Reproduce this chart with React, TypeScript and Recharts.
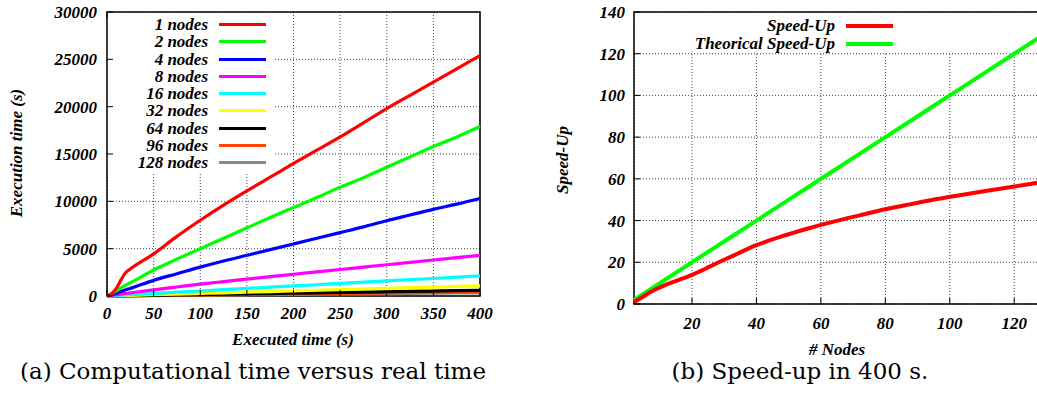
import React from 'react'
import {
  CartesianGrid,
  Legend,
  Line,
  LineChart,
  ReferenceArea,
  XAxis,
  YAxis,
} from 'recharts'

// (a) executed time vs. computational time, one series per node count
const executedTime = [0, 5, 10, 15, 20, 25, 50, 75, 100, 125, 150, 175, 200, 225, 250, 275, 300, 325, 350, 375, 400]
const nodes1 = [0, 250, 800, 1700, 2450, 2850, 4450, 6300, 8000, 9600, 11100, 12550, 14000, 15400, 16800, 18300, 19800, 21200, 22600, 24000, 25400]
const nodes2 = [0, 250, 550, 850, 1150, 1400, 2750, 3900, 5000, 6100, 7200, 8300, 9350, 10400, 11500, 12500, 13600, 14700, 15800, 16800, 17900]
const nodes4 = [0, 150, 300, 480, 650, 800, 1650, 2350, 3050, 3700, 4300, 4900, 5500, 6100, 6700, 7300, 7950, 8550, 9150, 9700, 10300]
const nodes8 = [0, 65, 130, 200, 265, 330, 650, 950, 1250, 1520, 1780, 2040, 2300, 2550, 2800, 3050, 3300, 3550, 3800, 4050, 4300]
const nodes16 = [0, 27, 53, 80, 106, 135, 270, 400, 530, 665, 800, 930, 1060, 1190, 1330, 1460, 1590, 1720, 1850, 1990, 2120]
const nodes32 = [0, 14, 27, 40, 54, 68, 135, 200, 270, 340, 405, 470, 540, 610, 675, 740, 810, 880, 945, 1010, 1080]
const nodes64 = [0, 8, 15, 22, 30, 38, 75, 110, 150, 190, 225, 260, 300, 340, 375, 410, 450, 490, 525, 560, 600]
const nodes96 = [0, 6, 11, 17, 22, 28, 55, 83, 110, 140, 165, 195, 220, 250, 275, 305, 330, 360, 385, 415, 440]
const nodes128 = [0, 4, 9, 13, 17, 21, 43, 64, 85, 106, 128, 150, 170, 190, 213, 234, 255, 276, 298, 320, 340]

const timeTicks = [0, 50, 100, 150, 200, 250, 300, 350, 400]
const execTicks = [0, 5000, 10000, 15000, 20000, 25000, 30000]

// (b) speed-up in 400 s
const nodeCounts = [2, 4, 8, 12, 16, 20, 24, 28, 32, 40, 48, 56, 64, 72, 80, 88, 96, 104, 112, 120, 128]
const speedUp = [1, 2.8, 6.5, 9.3, 11.6, 14, 16.8, 19.8, 22.6, 28.2, 32.5, 36.2, 39.5, 42.5, 45.4, 47.9, 50.3, 52.4, 54.4, 56.3, 58.3]
const theoricalSpeedUp = [2, 4, 8, 12, 16, 20, 24, 28, 32, 40, 48, 56, 64, 72, 80, 88, 96, 104, 112, 120, 128]

const nodeTicks = [20, 40, 60, 80, 100, 120]
const speedTicks = [0, 20, 40, 60, 80, 100, 120, 140]

const seriesA = [
  { key: 'n1', name: '1 nodes', values: nodes1, color: '#ff0000' },
  { key: 'n2', name: '2 nodes', values: nodes2, color: '#00ff00' },
  { key: 'n4', name: '4 nodes', values: nodes4, color: '#0000ff' },
  { key: 'n8', name: '8 nodes', values: nodes8, color: '#ff00ff' },
  { key: 'n16', name: '16 nodes', values: nodes16, color: '#00ffff' },
  { key: 'n32', name: '32 nodes', values: nodes32, color: '#ffff00' },
  { key: 'n64', name: '64 nodes', values: nodes64, color: '#000000' },
  { key: 'n96', name: '96 nodes', values: nodes96, color: '#ff4500' },
  { key: 'n128', name: '128 nodes', values: nodes128, color: '#888888' },
]

const dataA = executedTime.map((t, i) => {
  const row: Record<string, number> = { t }
  seriesA.forEach((s) => (row[s.key] = s.values[i]))
  return row
})

const dataB = nodeCounts.map((n, i) => ({ n, speed: speedUp[i], theory: theoricalSpeedUp[i] }))

const FONT = '"Liberation Serif", serif'
const labelStyle: React.CSSProperties = {
  fontFamily: FONT,
  fontStyle: 'italic',
  fontWeight: 'bold',
  fontSize: 17,
  color: '#000',
  whiteSpace: 'nowrap',
}

// tick helpers: tickSize/tickMargin are 0, so x/y sit right on the plot frame
const bottomTick = (dy: number) => (props: any) => {
  const { x, y, payload } = props
  return (
    <g>
      <line x1={x} x2={x} y1={y} y2={y - 6} stroke="#000" strokeWidth={1} />
      <text x={x} y={y + dy} textAnchor="middle" fontFamily={FONT} fontStyle="italic" fontWeight="bold" fontSize={17} fill="#000">
        {payload.value}
      </text>
    </g>
  )
}

const leftTick = (dx: number) => (props: any) => {
  const { x, y, payload } = props
  return (
    <g>
      <line x1={x} x2={x + 6} y1={y} y2={y} stroke="#000" strokeWidth={1} />
      <text x={x - dx} y={y + 6} textAnchor="end" fontFamily={FONT} fontStyle="italic" fontWeight="bold" fontSize={17} fill="#000">
        {payload.value}
      </text>
    </g>
  )
}

const topTick = (props: any) => {
  const { x, y } = props
  return <line x1={x} x2={x} y1={y} y2={y + 6} stroke="#000" strokeWidth={1} />
}

const rightTick = (props: any) => {
  const { x, y } = props
  return <line x1={x} x2={x - 6} y1={y} y2={y} stroke="#000" strokeWidth={1} />
}

function KeyBox({ items, labelWidth, rowHeight, lineWidth, thickness }: {
  items: Array<{ name: string; color: string }>
  labelWidth: number
  rowHeight: number
  lineWidth: number
  thickness: number
}) {
  return (
    <div>
      {items.map((item) => (
        <div key={item.name} style={{ display: 'flex', alignItems: 'center', height: rowHeight }}>
          <span style={{ ...labelStyle, width: labelWidth, textAlign: 'right', lineHeight: `${rowHeight}px` }}>{item.name}</span>
          <span style={{ display: 'inline-block', marginLeft: 11, width: lineWidth, height: thickness, background: item.color }} />
        </div>
      ))}
    </div>
  )
}

function ExecutionChart() {
  return (
    <LineChart width={520} height={398} data={dataA} margin={{ top: 11, right: 39, bottom: 72, left: 47 }}>
      <CartesianGrid stroke="#444" strokeDasharray="1 2" />
      <ReferenceArea x1={0} x2={180} y1={13100} y2={30000} fill="#fff" fillOpacity={1} stroke="none" />
      <XAxis dataKey="t" type="number" domain={[0, 400]} ticks={timeTicks} interval={0} height={30} tickSize={0} tickMargin={0} axisLine={false} tickLine={false} tick={bottomTick(23)} />
      <XAxis xAxisId="top" orientation="top" type="number" domain={[0, 400]} ticks={timeTicks} interval={0} height={1} tickSize={0} tickMargin={0} axisLine={false} tickLine={false} tick={topTick} />
      <YAxis type="number" domain={[0, 30000]} ticks={execTicks} interval={0} width={60} tickSize={0} tickMargin={0} axisLine={false} tickLine={false} tick={leftTick(10)} />
      <YAxis yAxisId="right" orientation="right" type="number" domain={[0, 30000]} ticks={execTicks} interval={0} width={1} tickSize={0} tickMargin={0} axisLine={false} tickLine={false} tick={rightTick} />
      {[...seriesA].reverse().map((s) => (
        <Line key={s.key} dataKey={s.key} name={s.name} stroke={s.color} strokeWidth={3.2} dot={false} type="monotone" isAnimationActive={false} />
      ))}
      <ReferenceArea x1={0} x2={400} y1={0} y2={30000} fill="none" stroke="#000" strokeWidth={1.5} />
      <Legend
        layout="horizontal"
        verticalAlign="middle"
        align="center"
        wrapperStyle={{ position: 'absolute', top: 16, left: 100, width: 170, bottom: 'auto' }}
        content={() => <KeyBox items={seriesA} labelWidth={108} rowHeight={17.25} lineWidth={47} thickness={3} />}
      />
    </LineChart>
  )
}

const seriesB = [
  { name: 'Speed-Up', color: '#ff0000' },
  { name: 'Theorical Speed-Up', color: '#00ff00' },
]

function SpeedUpChart() {
  return (
    <LineChart width={530} height={398} data={dataB} margin={{ top: 11, right: 9, bottom: 64, left: 54 }}>
      <CartesianGrid stroke="#444" strokeDasharray="1 2" />
      <ReferenceArea x1={2} x2={128} y1={121} y2={140} fill="#fff" fillOpacity={1} stroke="none" />
      <XAxis dataKey="n" type="number" domain={[2, 128]} ticks={nodeTicks} interval={0} height={30} tickSize={0} tickMargin={0} axisLine={false} tickLine={false} tick={bottomTick(25)} />
      <XAxis xAxisId="top" orientation="top" type="number" domain={[2, 128]} ticks={nodeTicks} interval={0} height={1} tickSize={0} tickMargin={0} axisLine={false} tickLine={false} tick={topTick} />
      <YAxis type="number" domain={[0, 140]} ticks={speedTicks} interval={0} width={60} tickSize={0} tickMargin={0} axisLine={false} tickLine={false} tick={leftTick(9)} />
      <YAxis yAxisId="right" orientation="right" type="number" domain={[0, 140]} ticks={speedTicks} interval={0} width={1} tickSize={0} tickMargin={0} axisLine={false} tickLine={false} tick={rightTick} />
      <Line dataKey="theory" name="Theorical Speed-Up" stroke="#00ff00" strokeWidth={4} dot={false} type="linear" isAnimationActive={false} />
      <Line dataKey="speed" name="Speed-Up" stroke="#ff0000" strokeWidth={4} dot={false} type="monotone" isAnimationActive={false} />
      <ReferenceArea x1={2} x2={128} y1={0} y2={140} fill="none" stroke="#000" strokeWidth={1.5} />
      <Legend
        layout="horizontal"
        verticalAlign="middle"
        align="center"
        wrapperStyle={{ position: 'absolute', top: 17, left: 150, width: 230, bottom: 'auto' }}
        content={() => <KeyBox items={seriesB} labelWidth={165} rowHeight={17.7} lineWidth={47} thickness={4} />}
      />
    </LineChart>
  )
}

const caption: React.CSSProperties = {
  position: 'absolute',
  top: 358,
  fontFamily: '"DejaVu Serif", serif',
  fontSize: 23,
  whiteSpace: 'nowrap',
  transform: 'translateX(-50%)',
  color: '#000',
}

export default function App() {
  return (
    <div style={{ position: 'absolute', top: 0, left: 0, width: 1037, height: 398, overflow: 'hidden', background: '#fff' }}>
      <div style={{ position: 'absolute', left: 0, top: 0 }}>
        <ExecutionChart />
      </div>
      <div style={{ position: 'absolute', left: 520, top: 0 }}>
        <SpeedUpChart />
      </div>
      <div style={{ ...labelStyle, position: 'absolute', left: 17, top: 153, transform: 'translate(-50%, -50%) rotate(-90deg)' }}>Execution time (s)</div>
      <div style={{ ...labelStyle, position: 'absolute', left: 293, top: 340, transform: 'translate(-50%, -50%)' }}>Executed time (s)</div>
      <div style={{ ...labelStyle, position: 'absolute', left: 563, top: 160, transform: 'translate(-50%, -50%) rotate(-90deg)' }}>Speed-Up</div>
      <div style={{ ...labelStyle, position: 'absolute', left: 837, top: 350, transform: 'translate(-50%, -50%)' }}>
        # Nodes
      </div>
      <div style={{ ...caption, left: 253 }}>(a) Computational time versus real time</div>
      <div style={{ ...caption, left: 800 }}>(b) Speed-up in 400 s.</div>
    </div>
  )
}
